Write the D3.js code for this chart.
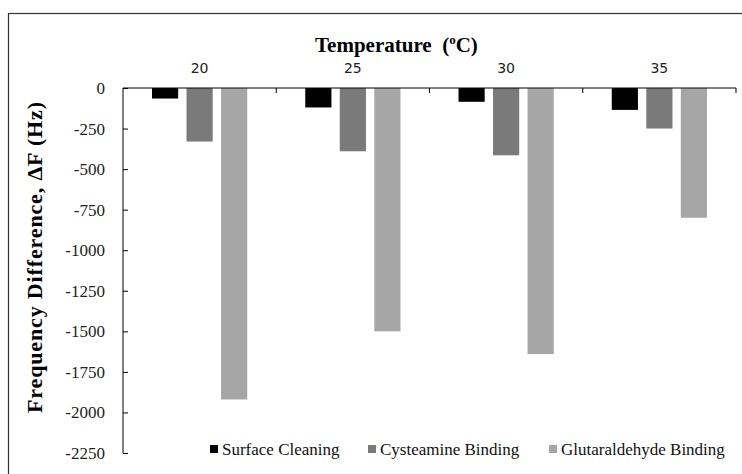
<!DOCTYPE html>
<html><head><meta charset="utf-8">
<script src="https://cdn.jsdelivr.net/npm/d3@7"></script>
<style>body{margin:0;background:#fff}svg{display:block}text{white-space:pre}</style>
</head><body>
<svg id="c" width="742" height="474"></svg>
<script>
const categories = ["20", "25", "30", "35"];
const seriesNames = ["Surface Cleaning", "Cysteamine Binding", "Glutaraldehyde Binding"];
const surfaceCleaning = [-65, -120, -85, -135];
const cysteamineBinding = [-330, -390, -415, -250];
const glutaraldehydeBinding = [-1920, -1500, -1640, -800];
const yTicks = [0, -250, -500, -750, -1000, -1250, -1500, -1750, -2000, -2250];
const colors = ["#000000", "#7a7a7a", "#a6a6a6"];
const seriesValues = [surfaceCleaning, cysteamineBinding, glutaraldehydeBinding];

const SERIF = "'Liberation Serif', 'Times New Roman', serif";
const SANS = "'DejaVu Sans', Verdana, sans-serif";

const svg = d3.select("#c");
const L = 123, R = 736, T = 88, B = 453;

// frame
svg.append("rect").attr("x", 8.5).attr("y", 13.5).attr("width", 760).attr("height", 500)
  .attr("fill", "none").attr("stroke", "#333").attr("stroke-width", 1.2);

const x = d3.scaleBand().domain(categories).range([L, R]);
const xs = d3.scaleBand().domain(seriesNames).range([0, x.bandwidth()]).paddingInner(0.242).paddingOuter(0.84);
const y = d3.scaleLinear().domain([0, -2250]).range([T, B]);

// bars
seriesNames.forEach((s, si) => {
  svg.append("g").selectAll("rect").data(categories).join("rect")
    .attr("x", d => x(d) + xs(s))
    .attr("width", xs.bandwidth())
    .attr("y", y(0))
    .attr("height", (d, i) => y(seriesValues[si][i]) - y(0))
    .attr("fill", colors[si]);
});

// y axis
const ya = svg.append("g").attr("transform", `translate(${L},0)`)
  .call(d3.axisLeft(y).tickValues(yTicks).tickSize(-5).tickPadding(18).tickFormat(d => String(d)));
ya.select(".domain").attr("stroke", "#000").attr("d", `M-0,${T}V${B}`);
ya.selectAll(".tick line").attr("stroke", "#000");
ya.selectAll(".tick text").style("font-family", SERIF)
  .style("font-size", "17px").attr("fill", "#222");

// x axis at top (zero line) with ticks at category boundaries pointing down
const xa = svg.append("g").attr("transform", `translate(0,${T})`);
xa.append("line").attr("x1", L).attr("x2", R).attr("stroke", "#000");
const bounds = categories.map(c => x(c) + x.bandwidth());
xa.selectAll("line.tk").data(bounds).join("line").attr("class", "tk")
  .attr("x1", d => d).attr("x2", d => d).attr("y1", 0).attr("y2", 5).attr("stroke", "#000");
svg.append("g").selectAll("text").data(categories).join("text")
  .attr("x", d => x(d) + x.bandwidth() / 2).attr("y", 73)
  .attr("text-anchor", "middle")
  .style("font-family", SANS).style("font-size", "14px").attr("fill", "#222")
  .text(d => d);

function fitWidth(sel, target) {
  const node = sel.node();
  const len = node.getComputedTextLength();
  const n = node.textContent.length;
  if (n > 1) sel.style("letter-spacing", ((target - len) / (n - 1)) + "px");
}

// title
const t = svg.append("text").attr("x", 315).attr("y", 52).attr("text-anchor", "start")
  .style("font-family", SERIF).style("font-weight", "bold")
  .style("font-size", "21px").attr("fill", "#000");
t.append("tspan").text("Temperature  (");
t.append("tspan").style("font-size", "13px").attr("dy", -8).text("o");
t.append("tspan").attr("dy", 8).text("C)");

// y label
const yl = svg.append("text").attr("transform", "translate(42,413) rotate(-90)").attr("text-anchor", "start")
  .style("font-family", SERIF).style("font-weight", "bold")
  .style("font-size", "22px").attr("fill", "#000")
  .text("Frequency Difference, ΔF (Hz)");
fitWidth(yl, 311);

// legend
const legX = [210, 368, 549];
const lg = svg.append("g").selectAll("g").data(seriesNames).join("g")
  .attr("transform", (d, i) => `translate(${legX[i]},455)`);
lg.append("rect").attr("x", 0).attr("y", -10).attr("width", 8).attr("height", 8)
  .attr("fill", (d, i) => colors[i]);
lg.append("text").attr("x", 12).attr("y", 0)
  .style("font-family", SERIF).style("font-size", "17px").attr("fill", "#111")
  .text(d => d);
</script>
</body></html>
